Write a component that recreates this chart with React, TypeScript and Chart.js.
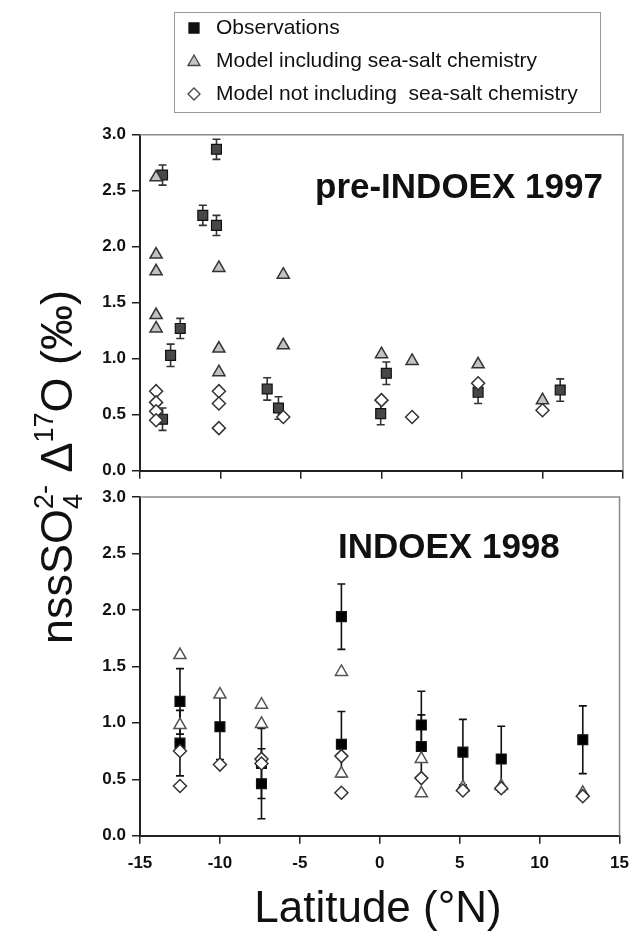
import React, { useEffect, useRef } from 'react';
import { Chart, registerables } from 'chart.js';
Chart.register(...registerables);

const FONT = "'Liberation Sans', Arial, Helvetica, sans-serif";

// ---------- data: pre-INDOEX 1997 ----------
const obs97Lat = [-13.6, -13.6, -13.1, -12.5, -11.1, -10.25, -10.25, -7.1, -6.4, -0.05, 0.3, 6.0, 11.1];
const obs97Val = [2.64, 0.46, 1.03, 1.27, 2.28, 2.87, 2.19, 0.73, 0.56, 0.51, 0.87, 0.7, 0.72];
const obs97Err = [0.09, 0.1, 0.1, 0.09, 0.09, 0.09, 0.09, 0.1, 0.1, 0.1, 0.1, 0.1, 0.1];
const ss97Lat = [-14.0, -14.0, -14.0, -14.0, -14.0, -10.1, -10.1, -10.1, -6.1, -6.1, 0.0, 1.9, 6.0, 10.0];
const ss97Val = [2.62, 1.93, 1.78, 1.39, 1.27, 1.81, 1.09, 0.88, 1.75, 1.12, 1.04, 0.98, 0.95, 0.63];
const noSs97Lat = [-14.0, -14.0, -14.0, -14.0, -10.1, -10.1, -10.1, -6.1, 0.0, 1.9, 6.0, 10.0];
const noSs97Val = [0.71, 0.61, 0.53, 0.45, 0.71, 0.6, 0.38, 0.48, 0.63, 0.48, 0.78, 0.54];

// ---------- data: INDOEX 1998 ----------
const obs98Lat = [-12.5, -12.5, -10.0, -7.4, -7.4, -2.4, -2.4, 2.6, 2.6, 5.2, 7.6, 12.7];
const obs98Val = [1.19, 0.82, 0.965, 0.64, 0.46, 1.94, 0.81, 0.98, 0.79, 0.74, 0.68, 0.85];
const obs98Err = [0.29, 0.29, 0.29, 0.31, 0.31, 0.29, 0.29, 0.3, 0.28, 0.29, 0.29, 0.3];
const ss98Lat = [-12.5, -12.5, -10.0, -7.4, -7.4, -2.4, -2.4, 2.6, 2.6, 5.2, 7.6, 12.7];
const ss98Val = [1.6, 0.98, 1.25, 1.16, 0.99, 1.45, 0.55, 0.68, 0.375, 0.43, 0.44, 0.38];
const noSs98Lat = [-12.5, -12.5, -10.0, -7.4, -7.4, -2.4, -2.4, 2.6, 5.2, 7.6, 12.7];
const noSs98Val = [0.75, 0.44, 0.63, 0.68, 0.64, 0.705, 0.38, 0.51, 0.4, 0.42, 0.35];

// ---------- ticks / labels ----------
const latTicks = [-15, -10, -5, 0, 5, 10, 15];
const latTickLabels = ['-15', '-10', '-5', '0', '5', '10', '15'];
const yTicks = [0, 0.5, 1, 1.5, 2, 2.5, 3];
const yTickLabels = ['0.0', '0.5', '1.0', '1.5', '2.0', '2.5', '3.0'];
const seriesNames = ['Observations', 'Model including sea-salt chemistry', 'Model not including  sea-salt chemistry'];
const panelTitles = ['pre-INDOEX 1997', 'INDOEX 1998'];
const xTitle = 'Latitude (°N)';

// ---------- layout ----------
const W = 638;
const H = 933;
const PLOT_LEFT = 140;
const PLOT_RIGHT = 623;
const TOP1 = 134.7;
const BOT1 = 470.7;
const TOP2 = 497;
const BOT2 = 835.7;

const pts = (xs: number[], ys: number[]) => xs.map((x, i) => ({ x, y: ys[i] }));

function errorBarPlugin(errs: number[], color: string) {
  return {
    id: 'errBars',
    beforeDatasetsDraw(chart: any) {
      const ctx = chart.ctx;
      const xs = chart.scales.x;
      const ys = chart.scales.y;
      const data = chart.data.datasets[0].data as { x: number; y: number }[];
      ctx.save();
      ctx.strokeStyle = color;
      ctx.lineWidth = 1.6;
      data.forEach((p, i) => {
        const px = xs.getPixelForValue(p.x);
        const y1 = ys.getPixelForValue(p.y + errs[i]);
        const y2 = ys.getPixelForValue(p.y - errs[i]);
        ctx.beginPath();
        ctx.moveTo(px, y1);
        ctx.lineTo(px, y2);
        ctx.moveTo(px - 4, y1);
        ctx.lineTo(px + 4, y1);
        ctx.moveTo(px - 4, y2);
        ctx.lineTo(px + 4, y2);
        ctx.stroke();
      });
      ctx.restore();
    },
  };
}

function framePlugin(title: string, titleX: number, titleY: number, titleSize: number) {
  return {
    id: 'frame',
    afterDraw(chart: any) {
      const { ctx, chartArea: a } = chart;
      ctx.save();
      ctx.strokeStyle = '#8a8a8a';
      ctx.lineWidth = 1.5;
      ctx.beginPath();
      ctx.moveTo(a.left, a.top);
      ctx.lineTo(a.right, a.top);
      ctx.lineTo(a.right, a.bottom);
      ctx.stroke();
      ctx.fillStyle = '#111';
      ctx.font = `bold ${titleSize}px ${FONT}`;
      ctx.textBaseline = 'middle';
      ctx.textAlign = 'left';
      ctx.fillText(title, titleX, titleY);
      ctx.restore();
    },
  };
}

function drawMarker(ctx: CanvasRenderingContext2D, kind: string, x: number, y: number, fill: string, stroke: string) {
  ctx.beginPath();
  if (kind === 'rect') {
    ctx.rect(x - 5, y - 5, 10, 10);
  } else if (kind === 'triangle') {
    ctx.moveTo(x, y - 6);
    ctx.lineTo(x + 6, y + 4.5);
    ctx.lineTo(x - 6, y + 4.5);
    ctx.closePath();
  } else {
    ctx.moveTo(x, y - 6);
    ctx.lineTo(x + 6, y);
    ctx.lineTo(x, y + 6);
    ctx.lineTo(x - 6, y);
    ctx.closePath();
  }
  ctx.fillStyle = fill;
  ctx.fill();
  ctx.strokeStyle = stroke;
  ctx.lineWidth = 1.3;
  ctx.stroke();
}

const legendAndYTitlePlugin = {
  id: 'legendYTitle',
  afterDraw(chart: any) {
    const ctx: CanvasRenderingContext2D = chart.ctx;
    ctx.save();
    // legend box
    ctx.strokeStyle = '#9a9a9a';
    ctx.lineWidth = 1;
    ctx.strokeRect(174.5, 12.5, 426, 100);
    const rows = [28, 61, 94];
    const kinds = ['rect', 'triangle', 'rectRot'];
    const fills = ['#111', '#c4c4c4', '#fff'];
    const strokes = ['#111', '#444', '#444'];
    ctx.font = `21px ${FONT}`;
    ctx.textBaseline = 'middle';
    ctx.textAlign = 'left';
    rows.forEach((ry, i) => {
      drawMarker(ctx, kinds[i], 194, ry, fills[i], strokes[i]);
      ctx.fillStyle = '#111';
      ctx.fillText(seriesNames[i], 216, ry);
    });

    // y-axis title (rich text, rotated)
    const big = 45;
    const small = 27;
    type Part = { t: string; s: number; dy: number }[];
    const parts: Part[] = [
      [{ t: 'nssSO', s: big, dy: 0 }],
      [
        { t: '2-', s: small, dy: -0.42 * big },
        { t: '4', s: small, dy: 0.22 * big },
      ],
      [{ t: ' Δ', s: big, dy: 0 }],
      [{ t: '17', s: small, dy: -0.42 * big }],
      [{ t: 'O (‰)', s: big, dy: 0 }],
    ];
    const widthOf = (p: Part) =>
      Math.max(
        ...p.map((q) => {
          ctx.font = `${q.s}px ${FONT}`;
          return ctx.measureText(q.t).width;
        })
      );
    const total = parts.reduce((acc, p) => acc + widthOf(p), 0);
    ctx.translate(72, 467);
    ctx.rotate(-Math.PI / 2);
    ctx.textBaseline = 'alphabetic';
    ctx.fillStyle = '#111';
    let cx = -total / 2;
    parts.forEach((p) => {
      const w = widthOf(p);
      p.forEach((q) => {
        ctx.font = `${q.s}px ${FONT}`;
        ctx.fillText(q.t, cx, q.dy);
      });
      cx += w;
    });
    ctx.restore();
  },
};

const xTitlePlugin = {
  id: 'xTitle',
  afterDraw(chart: any) {
    const ctx: CanvasRenderingContext2D = chart.ctx;
    ctx.save();
    ctx.fillStyle = '#111';
    ctx.font = `44px ${FONT}`;
    ctx.textAlign = 'center';
    ctx.textBaseline = 'alphabetic';
    ctx.fillText(xTitle, 378, 922);
    ctx.restore();
  },
};

function makeConfig(opts: {
  top: number;
  bottom: number;
  showX: boolean;
  obs: { x: number; y: number }[];
  ss: { x: number; y: number }[];
  noSs: { x: number; y: number }[];
  obsFill: string;
  ssFill: string;
  ssStroke: string;
  plugins: any[];
}): any {
  const tickFont = { family: FONT, size: 17, weight: 'bold' as const };
  return {
    type: 'scatter',
    data: {
      datasets: [
        {
          label: seriesNames[0],
          data: opts.obs,
          pointStyle: 'rect',
          pointRadius: 7,
          pointBackgroundColor: opts.obsFill,
          pointBorderColor: '#111',
          pointBorderWidth: 1.2,
          order: 3,
        },
        {
          label: seriesNames[1],
          data: opts.ss,
          pointStyle: 'triangle',
          pointRadius: 7,
          pointBackgroundColor: opts.ssFill,
          pointBorderColor: opts.ssStroke,
          pointBorderWidth: 1.5,
          order: 2,
        },
        {
          label: seriesNames[2],
          data: opts.noSs,
          pointStyle: 'rectRot',
          pointRadius: 6.5,
          pointBackgroundColor: '#ffffff',
          pointBorderColor: '#333',
          pointBorderWidth: 1.5,
          order: 1,
        },
      ],
    },
    options: {
      responsive: false,
      maintainAspectRatio: false,
      animation: false,
      events: [],
      layout: { padding: { top: opts.top, right: W - PLOT_RIGHT, left: 0, bottom: 0 } },
      plugins: { legend: { display: false }, tooltip: { enabled: false } },
      scales: {
        x: {
          type: 'linear',
          position: 'bottom',
          min: -15,
          max: 15,
          afterFit: (s: any) => {
            s.height = H - opts.bottom;
          },
          afterBuildTicks: (s: any) => {
            s.ticks = latTicks.map((v) => ({ value: v }));
          },
          ticks: {
            display: opts.showX,
            callback: (_v: any, i: number) => latTickLabels[i],
            font: tickFont,
            color: '#111',
            padding: 9,
            maxRotation: 0,
            autoSkip: false,
          },
          grid: { drawOnChartArea: false, drawTicks: true, tickLength: 8, color: '#222', lineWidth: 1.5 },
          border: { color: '#222', width: 2 },
        },
        y: {
          type: 'linear',
          min: 0,
          max: 3,
          afterFit: (s: any) => {
            s.width = PLOT_LEFT;
          },
          afterBuildTicks: (s: any) => {
            s.ticks = yTicks.map((v) => ({ value: v }));
          },
          ticks: {
            callback: (_v: any, i: number) => yTickLabels[i],
            font: tickFont,
            color: '#111',
            padding: 6,
            autoSkip: false,
          },
          grid: { drawOnChartArea: false, drawTicks: true, tickLength: 8, color: '#222', lineWidth: 1.5 },
          border: { color: '#222', width: 2 },
        },
      },
    },
    plugins: opts.plugins,
  };
}

export default function App() {
  const ref1 = useRef<HTMLCanvasElement>(null);
  const ref2 = useRef<HTMLCanvasElement>(null);

  useEffect(() => {
    const c1 = new Chart(
      ref1.current!,
      makeConfig({
        top: TOP1,
        bottom: BOT1,
        showX: false,
        obs: pts(obs97Lat, obs97Val),
        ss: pts(ss97Lat, ss97Val),
        noSs: pts(noSs97Lat, noSs97Val),
        obsFill: '#474747',
        ssFill: '#c2c2c2',
        ssStroke: '#333',
        plugins: [errorBarPlugin(obs97Err, '#333'), framePlugin(panelTitles[0], 315, 188, 35), legendAndYTitlePlugin],
      })
    );
    const c2 = new Chart(
      ref2.current!,
      makeConfig({
        top: TOP2,
        bottom: BOT2,
        showX: true,
        obs: pts(obs98Lat, obs98Val),
        ss: pts(ss98Lat, ss98Val),
        noSs: pts(noSs98Lat, noSs98Val),
        obsFill: '#000',
        ssFill: '#ffffff',
        ssStroke: '#555',
        plugins: [errorBarPlugin(obs98Err, '#111'), framePlugin(panelTitles[1], 338, 548, 35), xTitlePlugin],
      })
    );
    return () => {
      c1.destroy();
      c2.destroy();
    };
  }, []);

  const cs: React.CSSProperties = { position: 'absolute', left: 0, top: 0, width: W, height: H };
  return (
    <div style={{ position: 'absolute', left: 0, top: 0, width: W, height: H, background: '#fff' }}>
      <canvas ref={ref1} width={W} height={H} style={cs} />
      <canvas ref={ref2} width={W} height={H} style={cs} />
    </div>
  );
}
